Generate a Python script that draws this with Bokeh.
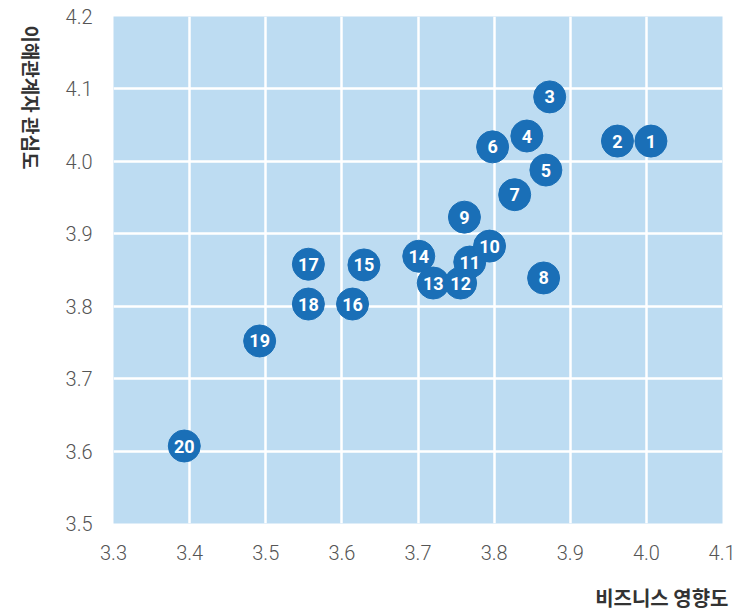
import math
from bokeh.plotting import figure
from bokeh.layouts import row, column
from bokeh.models import ColumnDataSource, FixedTicker, PrintfTickFormatter
from bokeh.core.properties import value
from bokeh.embed import file_html
from bokeh.resources import INLINE

ids = [str(i) for i in range(1, 21)]
business = [4.006, 3.962, 3.873, 3.843, 3.868, 3.798, 3.827, 3.865, 3.761, 3.794,
            3.768, 3.756, 3.720, 3.701, 3.629, 3.614, 3.556, 3.556, 3.492, 3.393]
stake = [4.028, 4.028, 4.089, 4.035, 3.988, 4.020, 3.954, 3.839, 3.923, 3.883,
         3.861, 3.832, 3.832, 3.869, 3.857, 3.803, 3.858, 3.803, 3.752, 3.607]
x_ticks = [3.3, 3.4, 3.5, 3.6, 3.7, 3.8, 3.9, 4.0, 4.1]
y_ticks = [3.5, 3.6, 3.7, 3.8, 3.9, 4.0, 4.1, 4.2]
x_title = "비즈니스 영향도"
y_title = "이해관계자 관심도"

TOTAL_W = 735
MAIN_H = 570
BOTTOM_H = 43
LEFT_W = 50


def strip(width, height):
    f = figure(width=width, height=height, output_backend="svg", toolbar_location=None, title=None,
               x_range=(0, width), y_range=(0, height),
               min_border_left=0, min_border_right=0, min_border_top=0, min_border_bottom=0)
    f.axis.visible = False
    f.grid.visible = False
    f.outline_line_color = None
    f.background_fill_color = "white"
    f.border_fill_color = "white"
    return f


src = ColumnDataSource(dict(x=business[::-1], y=stake[::-1], label=ids[::-1]))

# narrow strip holding the vertical (top-to-bottom) y-axis title
side = strip(LEFT_W, MAIN_H)
side.text(x=[31], y=[MAIN_H - 10], text=[y_title], angle=-math.pi / 2,
          text_align="left", text_baseline="middle", text_font=value("Noto Sans CJK KR"),
          text_font_style="bold", text_font_size="19px", text_color="#333333")

# bottom strip holding the right-aligned x-axis title
bottom = strip(TOTAL_W, BOTTOM_H)
bottom.text(x=[728], y=[BOTTOM_H - 27], text=[x_title],
            text_align="right", text_baseline="middle", text_font=value("Noto Sans CJK KR"),
            text_font_style="bold", text_font_size="20px", text_color="#333333")

p = figure(width=TOTAL_W - LEFT_W, height=MAIN_H, output_backend="svg", toolbar_location=None, title=None,
           x_range=(3.3, 4.1), y_range=(3.5, 4.2),
           min_border_left=113 - LEFT_W, min_border_right=13, min_border_top=16,
           min_border_bottom=MAIN_H - 523)
p.background_fill_color = "#bddcf2"
p.border_fill_color = "white"
p.outline_line_color = None

p.xaxis.ticker = FixedTicker(ticks=x_ticks)
p.yaxis.ticker = FixedTicker(ticks=y_ticks)
for ax in (p.xaxis, p.yaxis):
    ax.axis_line_color = None
    ax.major_tick_line_color = None
    ax.minor_tick_line_color = None
    ax.major_tick_out = 0
    ax.major_tick_in = 0
    ax.major_label_text_font = "Roboto Light"
    ax.major_label_text_font_size = "20px"
    ax.major_label_text_color = "#555555"
    ax.formatter = PrintfTickFormatter(format="%.1f")
p.xaxis.major_label_standoff = 21
p.yaxis.major_label_standoff = 21

p.grid.grid_line_color = "white"
p.grid.grid_line_width = 2.5

p.scatter("x", "y", source=src, size=32, fill_color="#1a6fb7", line_color="#1a6fb7", line_width=1)
p.text("x", "y", text="label", source=src, text_color="white", text_font=value("Roboto"),
       text_font_style="bold", text_font_size="18px", text_align="center", text_baseline="middle")

layout = column(row(side, p, spacing=0), bottom, spacing=0)
open("out.html", "w").write(file_html(layout, INLINE))
